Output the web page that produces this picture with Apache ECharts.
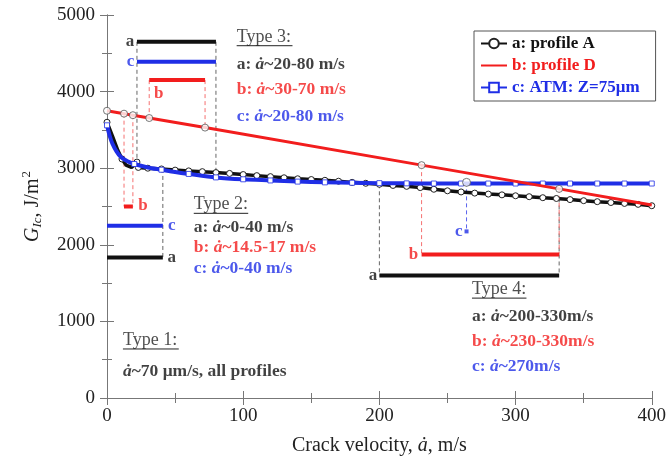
<!DOCTYPE html>
<html>
<head>
<meta charset="utf-8">
<script src="https://cdn.jsdelivr.net/npm/echarts@6/dist/echarts.min.js"></script>
<style>
  html, body { margin: 0; padding: 0; background: #fff; }
  #chart { width: 669px; height: 461px; }
</style>
</head>
<body>
<div id="chart"></div>
<script>
// profile A (black)
var velA = [0, 4, 8, 11, 14, 18, 22, 23, 30, 40, 50, 60, 70, 80, 90, 100, 110, 120, 130, 140, 150, 160, 170, 180, 190, 200,
  210, 220, 230, 240, 250, 260, 270, 280, 290, 300, 310, 320, 330, 340, 350, 360, 370, 380, 390, 400];
var gicA = [3600, 3420, 3230, 3120, 3040, 3010, 3080, 3010, 3000, 2990, 2975, 2965, 2955, 2943, 2932, 2917, 2903, 2890, 2875,
  2862, 2852, 2842, 2830, 2815, 2803, 2790, 2775, 2763, 2747, 2725, 2705, 2690, 2675, 2662, 2652, 2640, 2628, 2615, 2605,
  2590, 2576, 2563, 2552, 2540, 2528, 2510];

// profile D (red)
var velD = [0, 12.5, 19, 31, 72, 231, 332, 400];
var gicD = [3750, 3712, 3692, 3655, 3530, 3040, 2730, 2520];

// ATM Z=75um (blue)
var velC = [0, 2, 4, 7, 10, 15, 20, 30, 40, 50, 60, 80, 100, 120, 140, 160, 180, 200, 220, 240, 260, 280, 300, 320, 340, 360, 380, 400];
var gicC = [3560, 3420, 3320, 3220, 3150, 3090, 3055, 3010, 2980, 2950, 2925, 2880, 2855, 2840, 2825, 2815, 2810, 2805, 2802,
  2800, 2800, 2800, 2800, 2800, 2800, 2800, 2800, 2800];

var seriesNames = ['a: profile A', 'b: profile D', 'c: ATM: Z=75\u03bcm'];

// velocity ranges: [from, to, G level]
var barsA = [[22, 80, 4650], [0, 41, 1835], [200, 332, 1600]];
var barsD = [[31, 72, 4150], [12.5, 19, 2500], [231, 332, 1875]];
var barsC = [[22, 80, 4390], [0, 41, 2250]];
var dotC = [[264, 2175]];
var ringC = [[264, 2815]];

// dashed drop lines: [velocity, G top, G bottom]
var dropsA = [[22, 4650, 3050], [80, 4650, 2943], [41, 2990, 1835], [200, 2790, 1600], [332, 2605, 1600]];
var dropsD = [[31, 4150, 3655], [72, 4150, 3530], [12.5, 3712, 2500], [19, 3692, 2500], [231, 3040, 1875], [332, 2730, 1875]];
var dropsC = [[264, 2815, 2175]];

// letters at the bars: [text, velocity, G, align]
var letters = [
  ['a', 20, 4650, 'right', 'k'], ['c', 20, 4390, 'right', 'c'], ['b', 38, 3971, 'center', 'd'],
  ['b', 26.4, 2513, 'center', 'd'], ['c', 47.6, 2253, 'center', 'c'], ['a', 47.6, 1836, 'center', 'k'],
  ['a', 198.5, 1600, 'right', 'k'], ['b', 228.5, 1875, 'right', 'd'], ['c', 261, 2175, 'right', 'c']
];

// headings: [text, velocity, G, underline length in m/s]
var heads = [
  ['Type 3:', 95.2, 4714, 41], ['Type 2:', 63.7, 2526, 40],
  ['Type 4:', 268, 1419, 40], ['Type 1:', 11.7, 755, 41]
];

// notes: [text, velocity, G, colour]
var notes = [
  ['a: {i|\u0227}~20-80 m/s', 95.2, 4349, 'k'],
  ['b: {i|\u0227}~30-70 m/s', 95.2, 4023, 'd'],
  ['c: {i|\u0227}~20-80 m/s', 95.2, 3672, 'c'],
  ['a: {i|\u0227}~0-40 m/s', 63.7, 2227, 'k'],
  ['b: {i|\u0227}~14.5-17 m/s', 63.7, 1966, 'd'],
  ['c: {i|\u0227}~0-40 m/s', 63.7, 1693, 'c'],
  ['a: {i|\u0227}~200-330m/s', 268, 1068, 'k'],
  ['b: {i|\u0227}~230-330m/s', 268, 742, 'd'],
  ['c: {i|\u0227}~270m/s', 268, 417, 'c'],
  ['{i|\u0227}~70 \u03bcm/s, all profiles', 11.7, 352, 'k']
];

var colours = { k: '#111111', d: '#f21d1d', c: '#1f2ee6' };
var serif = 'Liberation Serif';
var axisGrey = '#777';

var chart = echarts.init(document.getElementById('chart'), null, { renderer: 'canvas' });

var pairs = function (xs, ys) {
  var out = [];
  for (var i = 0; i < xs.length; i++) {
    out.push([xs[i], ys[i]]);
  }
  return out;
};

var series = [];

// profile A
var dataA = [];
for (var i = 0; i < velA.length; i++) {
  var v = velA[i];
  var marked = v === 0 || v === 11 || v >= 22;
  dataA.push({ value: [v, gicA[i]], symbol: marked ? 'circle' : 'none' });
}
series.push({
  name: seriesNames[0], type: 'line', data: dataA, z: 3,
  symbol: 'circle', symbolSize: 6,
  lineStyle: { color: colours.k, width: 3.5 },
  itemStyle: { color: '#fff', borderColor: '#222', borderWidth: 1 }
});

// ATM
var dataC = [];
for (var j = 0; j < velC.length; j++) {
  var w = velC[j];
  var sq = w === 0 || (w >= 20 && w % 20 === 0);
  dataC.push({ value: [w, gicC[j]], symbol: sq ? 'rect' : 'none' });
}
series.push({
  name: seriesNames[2], type: 'line', data: dataC, z: 4, smooth: 0.3,
  symbol: 'rect', symbolSize: 5,
  lineStyle: { color: colours.c, width: 4 },
  itemStyle: { color: '#fff', borderColor: colours.c, borderWidth: 0.8 }
});

// profile D
series.push({
  name: seriesNames[1], type: 'line', data: pairs(velD, gicD), z: 5,
  symbol: 'none',
  lineStyle: { color: colours.d, width: 3 },
  itemStyle: { color: colours.d }
});
series.push({
  type: 'scatter', silent: true, z: 6,
  data: pairs(velD.slice(0, velD.length - 1), gicD.slice(0, gicD.length - 1)),
  symbol: 'circle', symbolSize: 7,
  itemStyle: { color: '#fff', borderColor: '#555', borderWidth: 1 }
});
series.push({
  type: 'scatter', silent: true, z: 6, data: ringC,
  symbol: 'circle', symbolSize: 8,
  itemStyle: { color: '#fff', borderColor: '#555', borderWidth: 1 }
});

// dashed drop lines
var addDrops = function (list, colour) {
  list.forEach(function (d) {
    series.push({
      type: 'line', silent: true, z: 2, symbol: 'none',
      data: [[d[0], d[1]], [d[0], d[2]]],
      lineStyle: { color: colour, width: 1, type: [4, 3] }
    });
  });
};
addDrops(dropsA, '#666');
addDrops(dropsD, '#f57070');
addDrops(dropsC, '#5a64ee');

// range bars
var addBars = function (list, colour) {
  list.forEach(function (b) {
    series.push({
      type: 'line', silent: true, z: 7, symbol: 'none',
      data: [[b[0], b[2]], [b[1], b[2]]],
      lineStyle: { color: colour, width: 4, cap: 'butt' }
    });
  });
};
addBars(barsA, colours.k);
addBars(barsD, colours.d);
addBars(barsC, colours.c);
series.push({
  type: 'scatter', silent: true, z: 7, data: dotC,
  symbol: 'rect', symbolSize: 4, itemStyle: { color: colours.c }
});

// heading underlines
heads.forEach(function (h) {
  var y = h[2] - 115;
  series.push({
    type: 'line', silent: true, z: 8, symbol: 'none',
    data: [[h[1], y], [h[1] + h[3], y]],
    lineStyle: { color: '#222', width: 1 }
  });
});

// all text labels
var textData = [];
letters.forEach(function (l) {
  textData.push({
    value: [l[1], l[2]],
    label: {
      formatter: l[0], align: l[3], color: colours[l[4]],
      fontSize: 17, fontWeight: 'bold'
    }
  });
});
heads.forEach(function (h) {
  textData.push({
    value: [h[1], h[2]],
    label: { formatter: h[0], align: 'left', color: '#222', fontSize: 18 }
  });
});
notes.forEach(function (n) {
  textData.push({
    value: [n[1], n[2]],
    label: {
      formatter: n[0], align: 'left', color: colours[n[3]], fontSize: 17.5, fontWeight: 'bold',
      rich: { i: { fontStyle: 'italic', fontWeight: 'bold', fontFamily: serif, fontSize: 17.5, color: colours[n[3]] } }
    }
  });
});
series.push({
  type: 'scatter', silent: true, z: 9, symbolSize: 0, data: textData,
  label: {
    show: true, position: 'inside', verticalAlign: 'middle',
    fontFamily: serif, color: '#111'
  }
});

var option = {
  animation: false,
  backgroundColor: '#fff',
  grid: { left: 107, right: 15, top: 15, bottom: 62 },
  legend: {
    data: [
      { name: seriesNames[0], textStyle: { color: colours.k } },
      { name: seriesNames[1], textStyle: { color: colours.d }, itemStyle: { color: 'rgba(0,0,0,0)', borderWidth: 0 } },
      { name: seriesNames[2], textStyle: { color: colours.c } }
    ],
    orient: 'vertical', left: 474, top: 31,
    padding: [4, 16, 5, 6], itemGap: 5, itemWidth: 26, itemHeight: 12,
    backgroundColor: '#fff', borderColor: '#555', borderWidth: 1,
    selectedMode: false,
    textStyle: { fontFamily: serif, fontSize: 17, fontWeight: 'bold' }
  },
  xAxis: [{
    type: 'value', min: 0, max: 400, interval: 100, position: 'bottom',
    name: 'Crack velocity, {i|\u0227}, m/s', nameLocation: 'middle', nameGap: 38,
    nameTextStyle: {
      fontFamily: serif, fontSize: 20, color: '#222',
      rich: { i: { fontStyle: 'italic', fontFamily: serif, fontSize: 20, color: '#222' } }
    },
    axisLine: { show: true, lineStyle: { color: axisGrey, width: 1 } },
    axisTick: { inside: true, length: 7, lineStyle: { color: axisGrey } },
    minorTick: { show: true, splitNumber: 2, length: 5, lineStyle: { color: axisGrey } },
    splitLine: { show: false },
    axisLabel: { fontFamily: serif, fontSize: 19, color: '#222', margin: 9 }
  }, {
    type: 'value', min: 0, max: 400, interval: 100, position: 'top',
    axisLine: { show: true, lineStyle: { color: axisGrey, width: 1 } },
    axisTick: { inside: true, length: 7, lineStyle: { color: axisGrey } },
    minorTick: { show: true, splitNumber: 2, length: 5, lineStyle: { color: axisGrey } },
    splitLine: { show: false },
    axisLabel: { show: false }
  }],
  yAxis: [{
    type: 'value', min: 0, max: 5000, interval: 1000, position: 'left',
    name: '{g|G}{s|Ic}{t|, J/m}{p|2}', nameLocation: 'middle', nameGap: 62, nameRotate: 90,
    nameTextStyle: {
      fontFamily: serif, fontSize: 20, color: '#222',
      rich: {
        g: { fontStyle: 'italic', fontFamily: serif, fontSize: 20, color: '#222' },
        s: { fontStyle: 'italic', fontFamily: serif, fontSize: 13, color: '#222', padding: [10, 0, 0, 0] },
        t: { fontFamily: serif, fontSize: 20, color: '#222' },
        p: { fontFamily: serif, fontSize: 13, color: '#222', padding: [0, 0, 12, 1] }
      }
    },
    axisLine: { show: true, lineStyle: { color: axisGrey, width: 1 } },
    axisTick: { inside: true, length: 7, lineStyle: { color: axisGrey } },
    minorTick: { show: true, splitNumber: 2, length: 5, lineStyle: { color: axisGrey } },
    splitLine: { show: false },
    axisLabel: {
      fontFamily: serif, fontSize: 19, color: '#222', margin: 12,
      formatter: function (val) { return String(val); }
    }
  }, {
    type: 'value', min: 0, max: 5000, interval: 1000, position: 'right',
    axisLine: { show: true, lineStyle: { color: axisGrey, width: 1 } },
    axisTick: { inside: true, length: 7, lineStyle: { color: axisGrey } },
    minorTick: { show: true, splitNumber: 2, length: 5, lineStyle: { color: axisGrey } },
    splitLine: { show: false },
    axisLabel: { show: false }
  }],
  series: series
};

chart.setOption(option);
</script>
</body>
</html>
